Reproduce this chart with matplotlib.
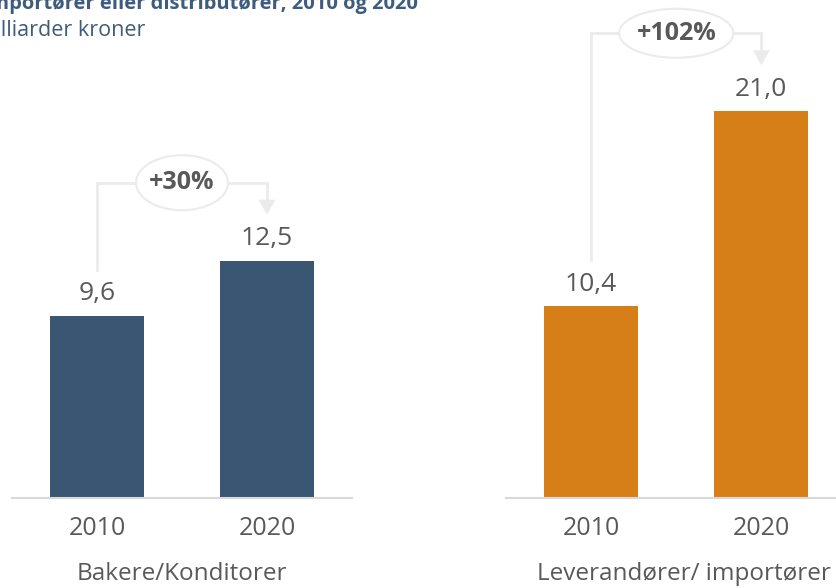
import matplotlib.pyplot as plt
from matplotlib.patches import Ellipse, Polygon

plt.rcParams['font.family'] = ['Open Sans', 'DejaVu Sans']

years = ['2010', '2020']
bakere = [9.6, 12.5]
leverandorer = [10.4, 21.0]
vekst = ['+30%', '+102%']
grupper = ['Bakere/Konditorer', 'Leverandører/ importører']

title = ('Omsetning hos bakere/konditorer og leverandører/'
         'importører eller distributører, 2010 og 2020')
subtitle = 'Milliarder kroner'

navy = '#3A5673'
orange = '#D67F19'
grey_txt = '#595959'
line_col = '#EBEBEB'

W, H = 836, 588
fig = plt.figure(figsize=(W / 100, H / 100), dpi=100)


def px_axes(left, bottom_px, width, height):
    # axes placed in pixel units, y measured from the top of the figure
    return fig.add_axes([left / W, (H - bottom_px) / H, width / W, height / H])


def panel(ax, vals, color, ymax, pct, label, ell_w, ell_h, label_dx):
    ax.set_xlim(-0.5, 1.5)
    ax.set_ylim(0, ymax)
    ax.bar([0, 1], vals, width=0.553, color=color, zorder=2)
    for s in ['top', 'right', 'left']:
        ax.spines[s].set_visible(False)
    ax.spines['bottom'].set_color('#D9D9D9')
    ax.spines['bottom'].set_linewidth(1.5)
    ax.set_yticks([])
    ax.set_xticks([0, 1], years)
    ax.tick_params(axis='x', length=0, pad=13, labelsize=18, labelcolor=grey_txt)

    # pixels -> data units
    upp = ymax / 400.0
    xpp = 1 / 170.0
    for i, v in enumerate(vals):
        ax.text(i, v + 22 * upp, f'{v:.1f}'.replace('.', ','), ha='center',
                va='center', fontsize=19, color=grey_txt)

    # growth connector
    y_low = vals[0] + 46 * upp
    y_top = max(vals) + 78 * upp
    tip = vals[1] + 46 * upp
    head_h = 15 * upp
    ax.plot([0, 0, 1, 1], [y_low, y_top, y_top, tip + head_h],
            color=line_col, lw=2, clip_on=False, zorder=1,
            solid_joinstyle='miter')
    ax.add_patch(Polygon([(1 - 8.5 * xpp, tip + head_h), (1 + 8.5 * xpp, tip + head_h),
                          (1, tip)], closed=True, facecolor=line_col,
                         edgecolor='none', clip_on=False, zorder=1))
    ax.add_patch(Ellipse((0.5, y_top), ell_w * xpp, ell_h * upp, facecolor='white',
                         edgecolor=line_col, lw=1.5, clip_on=False, zorder=3))
    ax.text(0.5, y_top, pct, ha='center', va='center', fontsize=18,
            fontweight='bold', color=grey_txt, zorder=4)

    ax.text(0.5 + label_dx * xpp, -0.205, label, transform=ax.get_xaxis_transform(),
            ha='center', va='baseline', fontsize=17.5, color=grey_txt)


ax1 = px_axes(12, 498, 340, 400)
panel(ax1, bakere, navy, 21.07, vekst[0], grupper[0], 92, 55, 0)

ax2 = px_axes(506, 498, 340.5, 400)
panel(ax2, leverandorer, orange, 21.72, vekst[1], grupper[1], 114, 49, 8)

fig.text(418 / W, 1 - 9 / H, title, ha='right', va='baseline', fontsize=14.5,
         fontweight='bold', color='#3E5C7E')
fig.text(145 / W, 1 - 36 / H, subtitle, ha='right', va='baseline', fontsize=15.5,
         color='#3E5C7E')

fig.savefig('out.png', dpi=100)
